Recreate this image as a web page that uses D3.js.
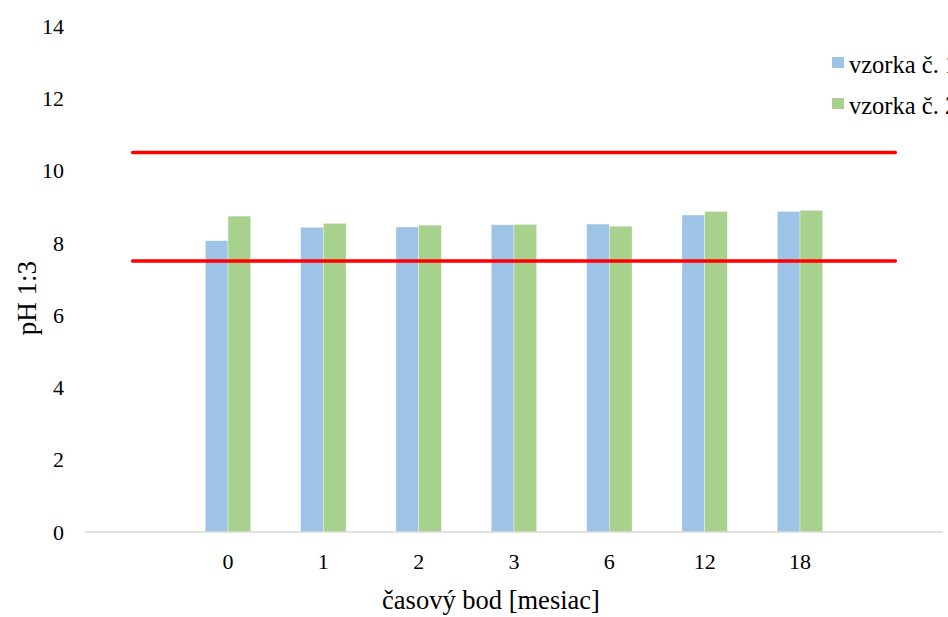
<!DOCTYPE html>
<html><head><meta charset="utf-8">
<script src="https://cdn.jsdelivr.net/npm/d3@7"></script>
<style>body{margin:0;background:#fff;}</style>
</head><body><svg id="c" width="948" height="617" font-family="Liberation Serif, Times New Roman, DejaVu Serif, serif"></svg>
<script>
const categories = ["", "0", "1", "2", "3", "6", "12", "18", ""];
const seriesNames = ["vzorka č. 1", "vzorka č. 2"];
const sample1 = [null, 8.06, 8.43, 8.44, 8.50, 8.52, 8.77, 8.87, null];
const sample2 = [null, 8.74, 8.54, 8.49, 8.51, 8.46, 8.87, 8.90, null];
const upperLimit = [10.5, 10.5, 10.5, 10.5, 10.5, 10.5, 10.5, 10.5, 10.5];
const lowerLimit = [7.5, 7.5, 7.5, 7.5, 7.5, 7.5, 7.5, 7.5, 7.5];
const yTicks = [0, 2, 4, 6, 8, 10, 12, 14];
const colors = ["#9DC3E6", "#A9D18E"];

const FONT = "Liberation Serif, Times New Roman, serif";
const svg = d3.select("#c");
const x = d3.scaleBand().domain(categories.map((d,i)=>i)).range([85, 943]).paddingInner(0).paddingOuter(0);
const y = d3.scaleLinear().domain([0, 14]).range([532, 26]);
const bw = 22.7;

// y tick labels
svg.append("g").selectAll("text").data(yTicks).join("text")
  .attr("x", 64).attr("y", d => y(d)).attr("dy", "0.35em").attr("font-family", FONT)
  .attr("text-anchor", "end").attr("font-size", 22).attr("fill", "#000").text(d => d);

// bars
[sample1, sample2].forEach((s, si) => {
  svg.append("g").selectAll("rect").data(s.map((v,i)=>({v,i})).filter(d=>d.v!=null)).join("rect")
    .attr("x", d => x(d.i) + x.bandwidth()/2 - bw + si*bw)
    .attr("y", d => y(d.v))
    .attr("width", bw)
    .attr("height", d => y(0) - y(d.v))
    .attr("fill", colors[si])
    .attr("stroke", "#fff").attr("stroke-opacity", 0.5).attr("stroke-width", 0.7);
});

// x axis line
svg.append("line").attr("x1", 85).attr("x2", 943).attr("y1", y(0)).attr("y2", y(0))
  .attr("stroke", "#D9D9D9").attr("stroke-width", 1.3);

// x tick labels
svg.append("g").selectAll("text").data(categories.map((c,i)=>({c,i})).filter(d=>d.c!=="")).join("text")
  .attr("x", d => x(d.i) + x.bandwidth()/2).attr("y", 561).attr("dy", "0.35em").attr("font-family", FONT)
  .attr("text-anchor", "middle").attr("font-size", 22).text(d => d.c);

// limit lines
const line = d3.line().x((d,i) => x(i) + x.bandwidth()/2).y(d => y(d));
[upperLimit, lowerLimit].forEach(l => {
  svg.append("path").attr("d", line(l)).attr("fill", "none")
    .attr("stroke", "#FF0000").attr("stroke-width", 3.5).attr("stroke-linecap", "round");
});

// axis titles
svg.append("text").attr("x", 491).attr("y", 600).attr("dy", "0.35em").attr("text-anchor", "middle")
  .attr("font-family", FONT).attr("font-size", 26.5).text("časový bod [mesiac]");
svg.append("text").attr("transform", "translate(27,298) rotate(-90)").attr("dy", "0.35em")
  .attr("font-family", FONT).attr("text-anchor", "middle").attr("font-size", 27).text("pH 1:3");

// legend
const lg = svg.append("g");
seriesNames.forEach((n, i) => {
  const yy = 63 + i*41;
  lg.append("rect").attr("x", 832).attr("y", yy - 6).attr("width", 12).attr("height", 11).attr("fill", colors[i]);
  lg.append("text").attr("x", 849).attr("y", yy + 1).attr("dy", "0.35em").attr("font-family", FONT).attr("font-size", 24.5).text(n);
});
</script></body></html>
